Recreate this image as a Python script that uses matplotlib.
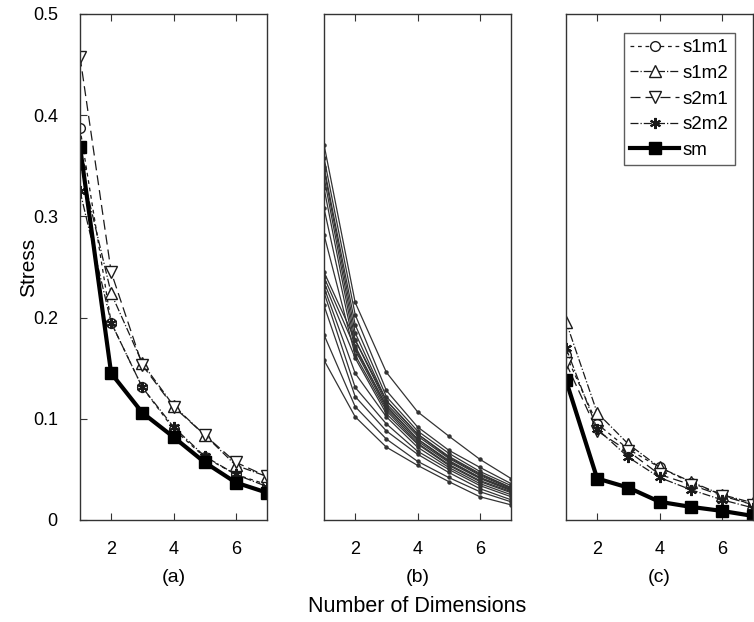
import numpy as np
import matplotlib
matplotlib.use('Agg')
import matplotlib.pyplot as plt

plt.rcParams['font.family'] = ['Liberation Sans', 'DejaVu Sans']

dims = [1, 2, 3, 4, 5, 6, 7]

# panel (a)
a_s1m1 = [0.387, 0.195, 0.131, 0.090, 0.062, 0.045, 0.035]
a_s1m2 = [0.353, 0.224, 0.155, 0.113, 0.084, 0.054, 0.043]
a_s2m1 = [0.458, 0.245, 0.153, 0.112, 0.084, 0.057, 0.043]
a_s2m2 = [0.325, 0.195, 0.131, 0.092, 0.063, 0.045, 0.033]
a_sm = [0.369, 0.145, 0.106, 0.082, 0.057, 0.037, 0.027]

# panel (c)
c_s1m1 = [0.163, 0.095, 0.070, 0.052, 0.037, 0.025, 0.015]
c_s1m2 = [0.196, 0.106, 0.075, 0.052, 0.038, 0.025, 0.017]
c_s2m1 = [0.155, 0.088, 0.068, 0.045, 0.035, 0.024, 0.015]
c_s2m2 = [0.170, 0.090, 0.062, 0.042, 0.030, 0.020, 0.012]
c_sm = [0.138, 0.041, 0.032, 0.018, 0.013, 0.009, 0.004]

# panel (b): individual runs
b_runs = [
    [0.371, 0.215, 0.146, 0.107, 0.083, 0.060, 0.041],
    [0.358, 0.203, 0.128, 0.092, 0.069, 0.052, 0.036],
    [0.349, 0.193, 0.122, 0.088, 0.066, 0.048, 0.034],
    [0.346, 0.185, 0.118, 0.085, 0.063, 0.046, 0.032],
    [0.339, 0.178, 0.115, 0.083, 0.061, 0.044, 0.031],
    [0.328, 0.172, 0.112, 0.080, 0.059, 0.042, 0.030],
    [0.308, 0.168, 0.110, 0.078, 0.057, 0.041, 0.029],
    [0.282, 0.163, 0.108, 0.076, 0.055, 0.039, 0.028],
    [0.245, 0.178, 0.118, 0.085, 0.062, 0.045, 0.032],
    [0.240, 0.170, 0.113, 0.080, 0.058, 0.042, 0.030],
    [0.235, 0.160, 0.105, 0.075, 0.054, 0.038, 0.027],
    [0.230, 0.145, 0.102, 0.072, 0.052, 0.036, 0.025],
    [0.225, 0.131, 0.095, 0.068, 0.050, 0.034, 0.023],
    [0.212, 0.122, 0.088, 0.065, 0.047, 0.031, 0.020],
    [0.183, 0.112, 0.080, 0.058, 0.042, 0.028, 0.018],
    [0.158, 0.102, 0.072, 0.054, 0.038, 0.023, 0.015],
]

fig = plt.figure(figsize=(7.54, 6.22), dpi=100)

W = 187 / 754
H = (520 - 14) / 622
B = 1 - 520 / 622
axa = fig.add_axes([80 / 754, B, W, H])
axb = fig.add_axes([324 / 754, B, W, H])
axc = fig.add_axes([566 / 754, B, W, H])

dark = '#1a1a1a'


def draw_group(ax, s1m1, s1m2, s2m1, s2m2, sm):
    ax.plot(dims, s1m1, linestyle=(0, (3, 3)), color=dark, lw=0.9,
            marker='o', ms=7, mfc='white', mec=dark, mew=1.0, label='s1m1')
    ax.plot(dims, s1m2, linestyle='-.', color=dark, lw=0.9,
            marker='^', ms=8, mfc='white', mec=dark, mew=1.0, label='s1m2')
    ax.plot(dims, s2m1, linestyle=(0, (8, 4)), color=dark, lw=0.9,
            marker='v', ms=8, mfc='white', mec=dark, mew=1.0, label='s2m1')
    ax.plot(dims, s2m2, linestyle='-.', color=dark, lw=0.9,
            marker=(6, 2, 0), ms=8, mfc=dark, mec=dark, mew=1.5, label='s2m2')
    ax.plot(dims, sm, linestyle='-', color='black', lw=3,
            marker='s', ms=9, mfc='black', mec='black', label='sm')


draw_group(axa, a_s1m1, a_s1m2, a_s2m1, a_s2m2, a_sm)
for run in b_runs:
    axb.plot(dims, run, color='#333333', lw=0.9, marker='o', ms=2.2)
draw_group(axc, c_s1m1, c_s1m2, c_s2m1, c_s2m2, c_sm)

for ax in (axa, axb, axc):
    ax.set_xlim(1, 7)
    ax.set_ylim(0, 0.5)
    ax.set_xticks([2, 4, 6])
    ax.tick_params(axis='x', direction='in', top=True, labelsize=13, length=5,
                   pad=15, color='#333333')
    for s in ax.spines.values():
        s.set_color('#333333')
        s.set_linewidth(1.0)

axa.set_yticks([0, 0.1, 0.2, 0.3, 0.4, 0.5])
axa.set_yticklabels(['0', '0.1', '0.2', '0.3', '0.4', '0.5'])
axa.tick_params(axis='y', direction='in', labelsize=13, length=5, pad=16,
                color='#333333')
axa.set_ylabel('Stress', fontsize=15, labelpad=-4)
for ax in (axb, axc):
    ax.set_yticks([])

for ax, lab in zip((axa, axb, axc), ['(a)', '(b)', '(c)']):
    ax.text(0.5, -0.113, lab, transform=ax.transAxes, ha='center', va='center',
            fontsize=14)

fig.text((324 + 93) / 754, 1 - 606 / 622, 'Number of Dimensions', ha='center',
         va='center', fontsize=15.5)

leg = axc.legend(loc='upper right', bbox_to_anchor=(0.905, 0.963), fontsize=13.5,
                 frameon=True, fancybox=False, handlelength=2.6,
                 handletextpad=0.2, borderpad=0.35, labelspacing=0.45,
                 borderaxespad=0)
leg.get_frame().set_edgecolor('#333333')
leg.get_frame().set_linewidth(1.0)

fig.savefig('out.png', dpi=100)
